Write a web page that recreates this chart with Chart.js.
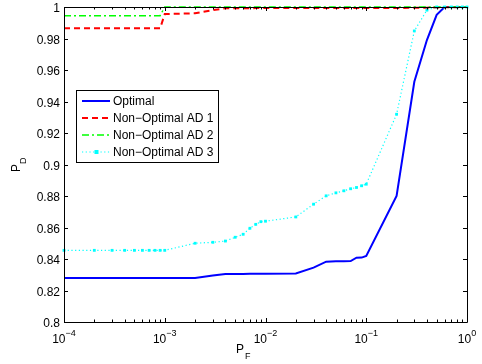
<!DOCTYPE html>
<html>
<head>
<meta charset="utf-8">
<script src="https://cdn.jsdelivr.net/npm/chart.js@4.4.0/dist/chart.umd.min.js"></script>
<style>
  html, body { margin: 0; padding: 0; background: #fff; }
  canvas { display: block; }
</style>
</head>
<body>
<canvas id="rocChart" width="482" height="364"></canvas>
<script>
'use strict';

// false alarm probabilities (x grid)
const pfValues = [
  0.0001, 0.0002, 0.0003, 0.0004, 0.0005, 0.0006, 0.0007, 0.0008, 0.0009,
  0.001, 0.002, 0.003, 0.004, 0.005, 0.006, 0.007, 0.008, 0.009,
  0.01, 0.02, 0.03, 0.04, 0.05, 0.06, 0.07, 0.08, 0.09,
  0.1, 0.2, 0.3, 0.4, 0.5, 0.6, 0.7, 0.8, 0.9,
  1
]

const optimalPd = [
  0.828, 0.828, 0.828, 0.828, 0.828, 0.828, 0.828, 0.828, 0.828,
  0.828, 0.828, 0.8295, 0.8304, 0.8305, 0.8305, 0.8306, 0.8306, 0.8307,
  0.8307, 0.8308, 0.8345, 0.8383, 0.8385, 0.8386, 0.8387, 0.8408, 0.8409,
  0.842, 0.880, 0.9525, 0.979, 0.995, 1, 1, 1, 1,
  1
]

const ad1Pd = [
  0.9865, 0.9865, 0.9865, 0.9865, 0.9865, 0.9865, 0.9865, 0.9865, 0.9865,
  0.9955, 0.996, 0.998, 0.9992, 0.9992, 0.9992, 0.9992, 0.9993, 0.9993,
  0.9993, 0.9993, 0.9993, 0.9993, 0.9993, 0.9993, 0.9993, 0.9993, 0.9993,
  0.9993, 0.9994, 0.9995, 0.9996, 0.9997, 0.9998, 0.9999, 0.9999, 1,
  1
]

const ad2Pd = [
  0.9945, 0.9945, 0.9945, 0.9945, 0.9945, 0.9945, 0.9945, 0.9945, 0.9945,
  1, 1, 1, 1, 1, 1, 1, 1, 1,
  1, 1, 1, 1, 1, 1, 1, 1, 1,
  1, 1, 1, 1, 1, 1, 1, 1, 1,
  1
]

const ad3Pd = [
  0.8455, 0.8455, 0.8455, 0.8455, 0.8455, 0.8455, 0.8455, 0.8455, 0.8455,
  0.8455, 0.850, 0.8506, 0.8514, 0.8538, 0.8557, 0.8595, 0.862, 0.8637,
  0.864, 0.8667, 0.8748, 0.8801, 0.882, 0.8833, 0.8846, 0.8854, 0.8865,
  0.8875, 0.9319, 0.9848, 0.998, 1, 1, 1, 1, 1,
  1
]

const seriesLabels = ['Optimal', 'Non\u2212Optimal AD 1', 'Non\u2212Optimal AD 2', 'Non\u2212Optimal AD 3']
const yTicks = [0.8, 0.82, 0.84, 0.86, 0.88, 0.9, 0.92, 0.94, 0.96, 0.98, 1]
const yTickLabels = ['0.8', '0.82', '0.84', '0.86', '0.88', '0.9', '0.92', '0.94', '0.96', '0.98', '1']
const xExponents = [-4, -3, -2, -1, 0]

const FONT = '"Liberation Sans", Arial, sans-serif'

function toPoints(ys) {
  return pfValues.map((x, i) => ({ x: x, y: ys[i] }))
}

const styles = [
  { color: '#0000ff', width: 2, dash: [], marker: false },
  { color: '#ff0000', width: 2, dash: [6, 4], marker: false },
  { color: '#00ff00', width: 1.5, dash: [7, 3, 2, 3], marker: false },
  { color: '#00ffff', width: 1.2, dash: [1.2, 2.5], marker: true }
]

// MATLAB-style box, ticks, labels and legend drawn from the chart scales
const matlabAxes = {
  id: 'matlabAxes',
  afterDatasetsDraw(chart) {
    const ctx = chart.ctx
    const xs = chart.scales.x
    const ys = chart.scales.y
    const a = chart.chartArea
    ctx.save()
    ctx.strokeStyle = '#000'
    ctx.lineWidth = 1
    ctx.beginPath()
    ctx.rect(a.left + 0.5, a.top + 0.5, a.right - a.left, a.bottom - a.top)
    ctx.stroke()

    // x ticks
    ctx.beginPath()
    for (let e = -4; e <= 0; e++) {
      const px = Math.round(xs.getPixelForValue(Math.pow(10, e))) + 0.5
      ctx.moveTo(px, a.bottom); ctx.lineTo(px, a.bottom - 4)
      ctx.moveTo(px, a.top); ctx.lineTo(px, a.top + 4)
      if (e < 0) {
        for (let k = 2; k <= 9; k++) {
          const mx = Math.round(xs.getPixelForValue(k * Math.pow(10, e))) + 0.5
          ctx.moveTo(mx, a.bottom); ctx.lineTo(mx, a.bottom - 2.5)
          ctx.moveTo(mx, a.top); ctx.lineTo(mx, a.top + 2.5)
        }
      }
    }
    // y ticks
    for (const v of yTicks) {
      const py = Math.round(ys.getPixelForValue(v)) + 0.5
      ctx.moveTo(a.left, py); ctx.lineTo(a.left + 4, py)
      ctx.moveTo(a.right, py); ctx.lineTo(a.right - 4, py)
    }
    ctx.stroke()

    ctx.fillStyle = '#000'
    // y labels
    ctx.font = '12px ' + FONT
    ctx.textAlign = 'right'
    ctx.textBaseline = 'middle'
    yTicks.forEach((v, i) => {
      ctx.fillText(yTickLabels[i], a.left - 4, ys.getPixelForValue(v) + 2)
    })

    // x labels 10^e
    ctx.textBaseline = 'alphabetic'
    ctx.textAlign = 'left'
    for (const e of xExponents) {
      const px = xs.getPixelForValue(Math.pow(10, e))
      const expText = e < 0 ? '\u2212' + (-e) : String(e)
      ctx.font = '12px ' + FONT
      const wBase = ctx.measureText('10').width
      ctx.font = '9px ' + FONT
      const wExp = ctx.measureText(expText).width
      const x0 = px - (wBase + wExp) / 2
      ctx.font = '12px ' + FONT
      ctx.fillText('10', x0, a.bottom + 21)
      ctx.font = '9px ' + FONT
      ctx.fillText(expText, x0 + wBase, a.bottom + 14)
    }

    // axis titles
    ctx.font = '12px ' + FONT
    ctx.fillText('P', 236, 353)
    ctx.font = '9px ' + FONT
    ctx.fillText('F', 245, 359)

    ctx.save()
    ctx.translate(20, 172)
    ctx.rotate(-Math.PI / 2)
    ctx.font = '12px ' + FONT
    ctx.fillText('P', 0, 0)
    ctx.font = '9px ' + FONT
    ctx.fillText('D', 8, 6)
    ctx.restore()

    // legend
    const lx = 76.5, ly = 90.5, lw = 142, lh = 72
    ctx.fillStyle = '#fff'
    ctx.fillRect(lx, ly, lw, lh)
    ctx.strokeStyle = '#000'
    ctx.lineWidth = 1
    ctx.strokeRect(lx, ly, lw, lh)
    const rows = [101, 118, 135, 152]
    chart.data.datasets.forEach((ds, i) => {
      const st = styles[i]
      ctx.strokeStyle = st.color
      ctx.lineWidth = st.width
      ctx.setLineDash(st.dash)
      ctx.beginPath()
      ctx.moveTo(82, rows[i]); ctx.lineTo(110, rows[i])
      ctx.stroke()
      ctx.setLineDash([])
      if (st.marker) {
        ctx.fillStyle = st.color
        ctx.fillRect(94.5, rows[i] - 2, 4, 4)
      }
      ctx.fillStyle = '#000'
      ctx.font = '12px ' + FONT
      ctx.textBaseline = 'middle'
      ctx.fillText(ds.label, 113, rows[i] + 0.5)
    })
    ctx.restore()
  }
}

const datasetsList = [optimalPd, ad1Pd, ad2Pd, ad3Pd].map((ys, i) => {
  const st = styles[i]
  return {
    label: seriesLabels[i],
    data: toPoints(ys),
    showLine: true,
    borderColor: st.color,
    backgroundColor: st.color,
    borderWidth: st.width,
    borderDash: st.dash,
    pointRadius: st.marker ? 2 : 0,
    pointStyle: 'rect',
    pointBorderWidth: 0,
    tension: 0,
    clip: 3,
    order: 4 - i
  }
})

const rocChart = new Chart(document.getElementById('rocChart'), {
  type: 'scatter',
  data: { datasets: datasetsList },
  options: {
    responsive: false,
    animation: false,
    layout: { padding: { left: 64, right: 15, top: 7, bottom: 42 } },
    plugins: { legend: { display: false }, tooltip: { enabled: false } },
    scales: {
      x: { type: 'logarithmic', min: 0.0001, max: 1, display: false },
      y: { type: 'linear', min: 0.8, max: 1, display: false }
    }
  },
  plugins: [matlabAxes]
})
</script>
</body>
</html>
